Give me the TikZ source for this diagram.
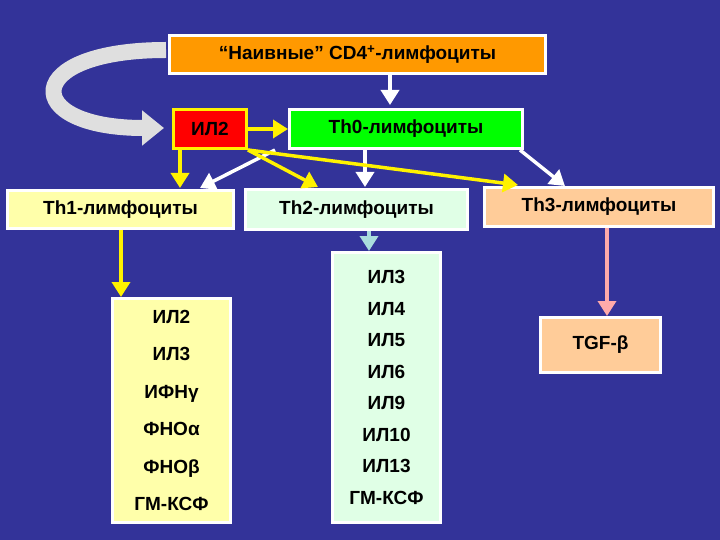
\documentclass[tikz,border=0pt]{standalone}
\usepackage{fontspec}
\setmainfont{Liberation Sans}
\usetikzlibrary{arrows.meta}
\definecolor{bg}{HTML}{333399}
\definecolor{orng}{HTML}{FF9900}
\definecolor{lyel}{HTML}{FFFFAA}
\definecolor{lgrn}{HTML}{E0FFE6}
\definecolor{peach}{HTML}{FFCC99}
\definecolor{aqua}{HTML}{AADDDD}
\definecolor{pinkl}{HTML}{FFAAAA}
\begin{document}
\begin{tikzpicture}[x=1pt,y=-1pt,
 box/.style={draw=white,line width=3pt,font=\bfseries\fontsize{19}{22}\selectfont,inner sep=0pt,anchor=north west},
 tip/.style={-{Triangle[length=15pt,width=18pt]}},
 wa/.style={draw=white,line width=3.5pt,tip},
 ya/.style={draw=yellow,line width=3.5pt,tip}]
\fill[bg] (0,0) rectangle (720,540);
\node[box,fill=orng,minimum width=376pt,minimum height=38pt] (top) at (168,34) {“Наивные” CD4\textsuperscript{+}-лимфоциты};
\node[box,draw=yellow,fill=red,minimum width=73pt,minimum height=39pt] (il2) at (172,108) {ИЛ2};
\node[box,fill=green,minimum width=233pt,minimum height=39pt] (th0) at (288,108) {Th0-лимфоциты};
\node[box,fill=lyel,minimum width=226pt,minimum height=38pt] (th1) at (6,189) {Th1-лимфоциты};
\node[box,fill=lgrn,minimum width=222pt,minimum height=40pt] (th2) at (244,188) {Th2-лимфоциты};
\node[box,fill=peach,minimum width=229pt,minimum height=39pt] (th3) at (483,186) {Th3-лимфоциты};
\node[box,fill=lyel,minimum width=118pt,minimum height=224pt,align=center,font=\bfseries\fontsize{19}{37.5}\selectfont] (l1) at (111,297) {ИЛ2\\ИЛ3\\ИФНγ\\ФНОα\\ФНОβ\\ГМ-КСФ};
\node[box,fill=lgrn,minimum width=108pt,minimum height=270pt,align=center,font=\bfseries\fontsize{19}{31.5}\selectfont] (l2) at (331,251) {ИЛ3\\ИЛ4\\ИЛ5\\ИЛ6\\ИЛ9\\ИЛ10\\ИЛ13\\ГМ-КСФ};
\node[box,fill=peach,minimum width=120pt,minimum height=55pt] (tgf) at (539,316) {TGF-β};
% curved gray arrow
\coordinate (c1) at (166,50);
\coordinate (c2) at (164,128);
\draw[line width=16pt,-{Triangle[length=22pt,width=34pt]},draw=gray!25] (c1) .. controls (20,50) and (20,128) .. (c2);
\draw[wa] (top.south -| 390,0) -- (390,105);
\draw[wa] (th0.south -| 275,0) -- (200,188);
\draw[wa] (th0.south -| 365,0) -- (365,187);
\draw[wa] (th0.south -| 520,0) -- (565,186);
\draw[ya] (il2.east) -- (th0.west);
\draw[ya] (il2.south -| 180,0) -- (180,188);
\draw[ya] (il2.south east) -- (318,187);
\draw[ya] (il2.south east) -- (518,185);
\draw[yellow,line width=3.5pt,tip] (th1.south -| 121,0) -- (l1.north -| 121,0);
\draw[aqua,line width=3.5pt,tip] (th2.south -| 369,0) -- (l2.north -| 369,0);
\draw[pinkl,line width=3.5pt,tip] (th3.south -| 607,0) -- (tgf.north -| 607,0);
\end{tikzpicture}
\end{document}
